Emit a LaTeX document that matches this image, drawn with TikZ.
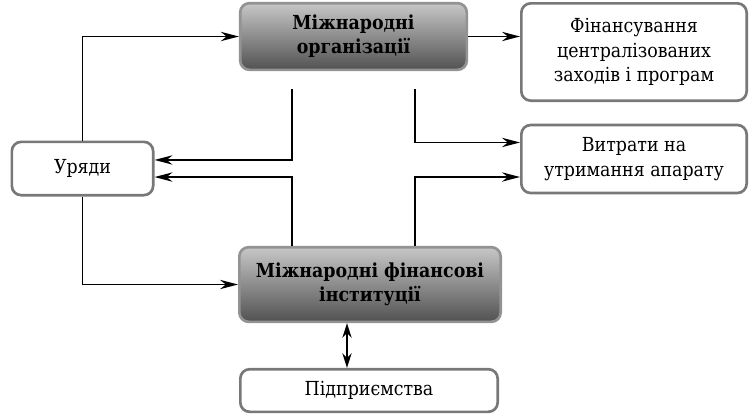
\documentclass[tikz,border=0pt]{standalone}
\usepackage{fontspec}
\setmainfont{DejaVu Serif Condensed}[BoldFont={DejaVu Serif Condensed Bold}]
\usetikzlibrary{arrows.meta,positioning}
\definecolor{framecolor}{rgb}{0.47, 0.47, 0.47}
\tikzset{
	block/.style={
		rectangle,
		rounded corners=7pt,
		line width=2pt,
		draw=framecolor,
		fill=white,
		align=center,
		inner sep=2pt,
		font=\fontsize{14.5}{18.5}\selectfont
	},
	darkblock/.style={
		block,
		draw=framecolor!80,
		top color=black!22,
		bottom color=black!68,
		font=\fontsize{14.5}{18}\selectfont\bfseries
	},
	arrow/.style={
		draw=black,
		line width=1.2pt,
		-{Stealth[length=13.5pt,width=7pt]}
	},
}
\begin{document}
\begin{tikzpicture}[x=0.75pt,y=-0.75pt]
\useasboundingbox (0,0) rectangle (750,415);
\node[darkblock,minimum width=170pt,minimum height=50pt] (mo) at (353.5,36.5) {Міжнародні\\організації};
\node[block,minimum width=169pt,minimum height=73pt] (fin) at (634,52) {Фінансування\\централізованих\\заходів і програм};
\node[block,minimum width=169pt,minimum height=51pt] (vyt) at (634,159) {Витрати на\\утримання апарату};
\node[block,minimum width=106pt,minimum height=40pt] (ur) at (82.5,168.5) {Уряди};
\node[darkblock,minimum width=196pt,minimum height=56pt] (mfi) at (370,284.5) {Міжнародні фінансові\\інституції};
\node[block,minimum width=193pt,minimum height=32pt] (pid) at (369,390.5) {Підприємства};
\coordinate (c1) at (292,89);
\coordinate (c2) at (415,89);
%Уряди
\draw[arrow] (ur.north) |- (mo.west);
\draw[arrow] (ur.south) |- (mfi.west);
\draw[arrow] (mo.east) -- (mo.east -| fin.west);
\draw[arrow] (c1) |- ([yshift=6.4pt]ur.east);
\draw[arrow] (mfi.north -| c1) |- ([yshift=-6.4pt]ur.east);
\draw[arrow] (c2) |- ([yshift=12.4pt]vyt.west);
\draw[arrow] (mfi.north -| c2) |- ([yshift=-13.5pt]vyt.west);
\draw[line width=1.2pt,{Stealth[length=11pt,width=7pt]}-{Stealth[length=11pt,width=7pt]}] ([xshift=-17.25pt]mfi.south) -- ([xshift=-17.25pt]mfi.south |- pid.north);
\end{tikzpicture}
\end{document}
